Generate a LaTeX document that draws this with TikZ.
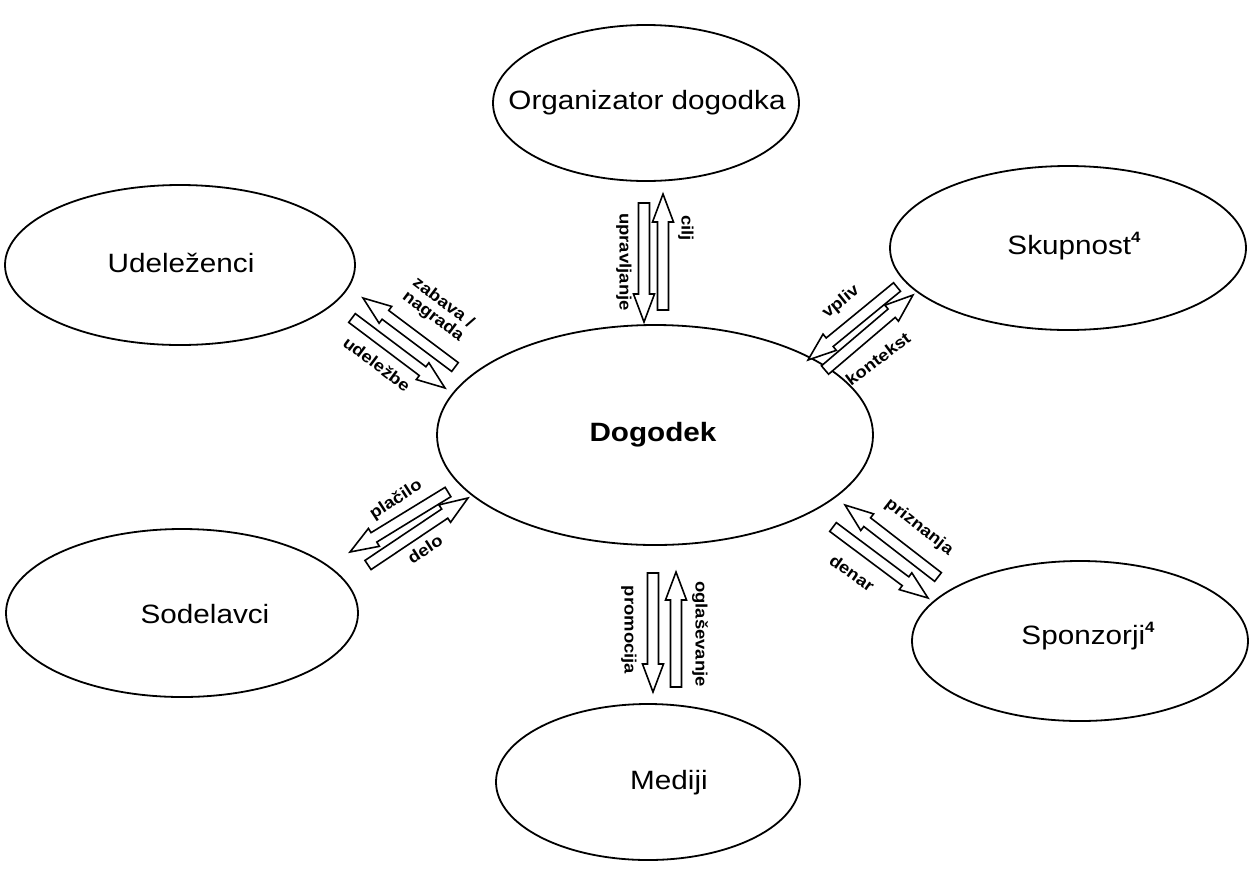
\documentclass[tikz,border=0pt]{standalone}
\usepackage{fontspec}
\setmainfont{Liberation Sans}[FakeStretch=1.12]
\usetikzlibrary{shapes.geometric,calc}
\tikzset{
  ell/.style={draw, ellipse, line width=1.8pt, inner sep=0pt},
  big/.style={font=\fontsize{26.5}{30}\selectfont, inner sep=0pt},
  small/.style={font=\fontsize{16.5}{17}\selectfont\bfseries, align=center, inner sep=0pt},
  barr/.style={draw, line width=1.6pt, line join=miter, fill=white}
}
\newcommand\blk[2]{\draw[barr] let \p1=(#1), \p2=(#2),
  \n1={atan2(\y2-\y1,\x2-\x1)}, \n2={veclen(\x2-\x1,\y2-\y1)} in
  [shift={(\p1)}, rotate=\n1]
  (0pt,-5.5pt) -- ({\n2-28pt},-5.5pt) -- ({\n2-28pt},-10.5pt) -- (\n2,0pt)
  -- ({\n2-28pt},10.5pt) -- ({\n2-28pt},5.5pt) -- (0pt,5.5pt) -- cycle;}
\newcommand\supf{\raisebox{0.45em}{\fontsize{15}{15}\selectfont\bfseries 4}}
\begin{document}
\begin{tikzpicture}[x=1pt,y=-1pt]
\useasboundingbox (0,0) rectangle (1252,868);
% ellipses
\node[ell, minimum width=306pt, minimum height=156pt] (org) at (646,103) {};
\node[ell, minimum width=350pt, minimum height=160pt] (ude) at (180,265) {};
\node[ell, minimum width=356pt, minimum height=164pt] (sku) at (1068,248) {};
\node[ell, minimum width=436pt, minimum height=220pt] (dog) at (655,435) {};
\node[ell, minimum width=352pt, minimum height=168pt] (sod) at (182,613) {};
\node[ell, minimum width=336pt, minimum height=160pt] (spo) at (1080,641) {};
\node[ell, minimum width=304pt, minimum height=156pt] (med) at (648,782) {};
% ellipse texts
\node[big] (orgT) at (647,103) {Organizator dogodka};
\node[big] (udeT) at (181,263) {Udele\v{z}enci};
\node[big] (skuT) at (1074,246) {Skupnost\supf};
\node[big, font=\fontsize{26.5}{30}\selectfont\bfseries] (dogT) at (653,435) {Dogodek};
\node[big] (sodT) at (205,614) {Sodelavci};
\node[big] (spoT) at (1088,636) {Sponzorji\supf};
\node[big] (medT) at (669,783) {Mediji};
% arrow end points
\coordinate (a1) at (644,203); \coordinate (b1) at (644,322);
\coordinate (a2) at (663,310); \coordinate (b2) at (663,194);
\coordinate (a3) at (653,573); \coordinate (b3) at (653,692);
\coordinate (a4) at (676,687); \coordinate (b4) at (676,572);
\coordinate (a5) at (455,367); \coordinate (b5) at (363,298);
\coordinate (a6) at (352,318); \coordinate (b6) at (445,388);
\coordinate (a7) at (897,287); \coordinate (b7) at (808,360);
\coordinate (a8) at (825,370); \coordinate (b8) at (913,295);
\coordinate (a9) at (448,492); \coordinate (b9) at (350,552);
\coordinate (a10) at (368,565); \coordinate (b10) at (468,498);
\coordinate (a11) at (938,577); \coordinate (b11) at (845,505);
\coordinate (a12) at (833,527); \coordinate (b12) at (928,598);
\blk{a1}{b1} \blk{a2}{b2} \blk{a3}{b3} \blk{a4}{b4}
\blk{a5}{b5} \blk{a6}{b6} \blk{a7}{b7} \blk{a8}{b8}
\blk{a9}{b9} \blk{a10}{b10} \blk{a11}{b11} \blk{a12}{b12}
% arrow labels
\node[small, rotate=-90] (l1) at (624,262) {upravljanje};
\node[small, rotate=-90] (l2) at (686,228) {cilj};
\node[small, rotate=-90] (l3) at (629,630) {promocija};
\node[small, rotate=-90] (l4) at (700,634) {ogla\v{s}evanje};
\node[small, rotate=-37] (l5) at (438,310) {zabava /\\nagrada};
\node[small, rotate=-37] (l6) at (377,364) {udele\v{z}be};
\node[small, rotate=39] (l7) at (841,302) {vpliv};
\node[small, rotate=37] (l8) at (878,359) {kontekst};
\node[small, rotate=33] (l9) at (396,500) {pla\v{c}ilo};
\node[small, rotate=33] (l10) at (425,549) {delo};
\node[small, rotate=-38] (l11) at (919,527) {priznanja};
\node[small, rotate=-35] (l12) at (852,573) {denar};
\end{tikzpicture}
\end{document}
